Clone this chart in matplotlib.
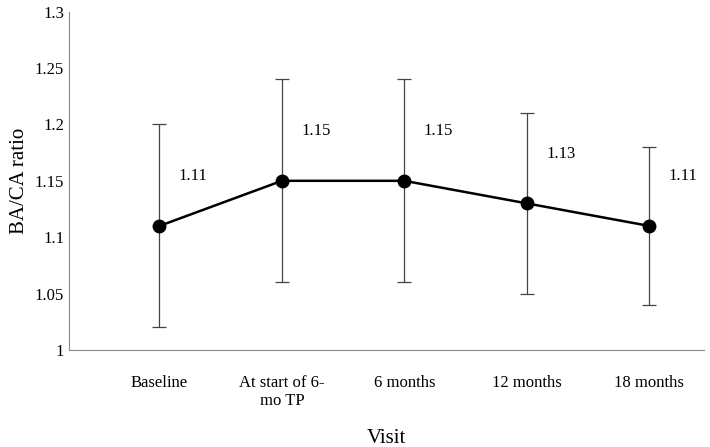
import matplotlib.pyplot as plt

visits = ["Baseline", "At start of 6-\nmo TP", "6 months", "12 months", "18 months"]
mean_ratio = [1.11, 1.15, 1.15, 1.13, 1.11]
upper = [1.20, 1.24, 1.24, 1.21, 1.18]
lower = [1.02, 1.06, 1.06, 1.05, 1.04]

plt.rcParams["font.family"] = "Liberation Serif"

fig = plt.figure(figsize=(7.1, 4.47), dpi=100)
ax = fig.add_axes([0.097, 0.217, 0.895, 0.757])

x = list(range(len(visits)))
yerr = [[m - l for m, l in zip(mean_ratio, lower)],
        [u - m for m, u in zip(mean_ratio, upper)]]
ax.errorbar(x, mean_ratio, yerr=yerr, fmt="o-", color="black", ms=9,
            lw=1.8, ecolor="#444444", elinewidth=0.9, capsize=5, capthick=0.9)

for xi, m in zip(x, mean_ratio):
    ax.annotate(f"{m:.2f}", (xi, m), xytext=(14, 30), textcoords="offset points",
                fontsize=12, va="bottom")

ax.set_xlim(-0.74, 4.45)
ax.set_ylim(1.0, 1.3)
ax.set_yticks([1, 1.05, 1.1, 1.15, 1.2, 1.25, 1.3])
ax.set_yticklabels(["1", "1.05", "1.1", "1.15", "1.2", "1.25", "1.3"])
ax.set_xticks(x)
ax.set_xticklabels(visits)
ax.tick_params(labelsize=12, length=0)
ax.tick_params(axis="x", pad=18)
ax.spines["top"].set_visible(False)
ax.spines["right"].set_visible(False)
ax.spines["left"].set_color("#888888")
ax.spines["bottom"].set_color("#888888")
ax.set_xlabel("Visit", fontsize=15, labelpad=14)
ax.set_ylabel("BA/CA ratio", fontsize=15)

fig.savefig("out.png")
